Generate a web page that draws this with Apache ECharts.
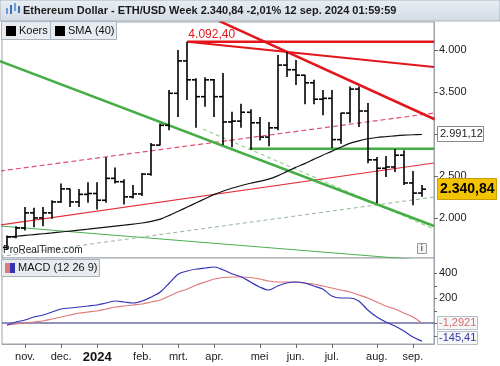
<!DOCTYPE html>
<html><head><meta charset="utf-8">
<script src="https://cdn.jsdelivr.net/npm/echarts@6/dist/echarts.min.js"></script>
<style>html,body{margin:0;padding:0;background:#fff}#c{width:500px;height:366px}</style>
</head><body><div id="c"></div>
<script>
// Weekly bars (week start dates)
const weeks = ['2023-10-23','2023-10-30','2023-11-06','2023-11-13','2023-11-20','2023-11-27','2023-12-04','2023-12-11','2023-12-18','2023-12-25',
  '2024-01-01','2024-01-08','2024-01-15','2024-01-22','2024-01-29','2024-02-05','2024-02-12','2024-02-19','2024-02-26','2024-03-04',
  '2024-03-11','2024-03-18','2024-03-25','2024-04-01','2024-04-08','2024-04-15','2024-04-22','2024-04-29','2024-05-06','2024-05-13',
  '2024-05-20','2024-05-27','2024-06-03','2024-06-10','2024-06-17','2024-06-24','2024-07-01','2024-07-08','2024-07-15','2024-07-22',
  '2024-07-29','2024-08-05','2024-08-12','2024-08-19','2024-08-26','2024-09-02','2024-09-09'];
const open  = [1650,1775,1880,2060,2000,2060,2190,2345,2190,2280, 2290,2210,2470,2430,2250,2285,2520,2865,3100,3480,
  3865,3640,3440,3640,3440,3140,3150,3255,3130,2960, 3070,3815,3760,3695,3605,3410,3420,2930,3245,3530, 3270,2690,2590,2605,2745,2415,2295];
const high  = [1790,1900,2130,2120,2130,2210,2410,2350,2345,2425, 2425,2720,2600,2460,2390,2535,2890,3120,3520,3995,
  4092.4,3660,3670,3650,3720,3260,3355,3290,3200,3140, 3935,3975,3875,3700,3640,3520,3520,3250,3560,3560, 3365,2725,2735,2820,2805,2557,2390];
const low   = [1620,1760,1850,1890,1900,1990,2180,2130,2130,2180, 2100,2180,2410,2160,2230,2260,2500,2860,3040,3200,
  3400,3070,3320,3200,2865,2840,3070,2810,2920,2850, 3040,3675,3580,3350,3350,3220,2830,2880,3130,3080, 2650,2175,2485,2545,2390,2150,2250];
const close = [1775,1880,2060,2000,2060,2190,2345,2190,2280,2290, 2210,2470,2430,2250,2285,2520,2865,3100,3480,3865,
  3640,3440,3640,3440,3140,3150,3255,3130,2960,3070, 3815,3760,3695,3605,3410,3420,2930,3245,3530,3270, 2690,2590,2605,2745,2415,2295,2340.84];
const sma40 = [1772,1782,1792,1802,1812,1822,1833,1844,1855,1866, 1878,1890,1902,1914,1927,1940,1958,1985,2030,2080,
  2130,2180,2230,2280,2320,2355,2385,2412,2435,2460, 2500,2550,2600,2645,2695,2745,2790,2840,2885,2915, 2940,2955,2965,2975,2983,2988,2991.12];
const macd  = [-16,8,24,48,64,88,112,120,128,136, 144,160,176,168,160,176,208,248,320,392,
  416,432,440,448,424,392,368,328,288,264, 296,320,328,320,296,272,216,200,200,176, 104,48,8,-24,-64,-112,-145.41];
const signal= [-16,-8,0,8,16,32,48,64,80,88, 96,112,128,136,144,152,168,184,216,248,
  272,304,328,352,364,368,368,364,352,336, 328,328,328,320,312,296,280,264,248,224, 200,168,136,112,80,48,-1.2921];
// x-axis month labels (week index of first bar of month)
const monthIdx = [2,6,10,15,19,23,28,32,36,41,45];
const monthLabels = ['nov.','dec.','2024','feb.','mrt.','apr.','mei','jun.','jul.','aug.','sep.'];
const priceTicks = [2000,2500,3000,3500,4000];
const priceLabels = [2000,2500,3500,4000];
const macdTicks = [-100,0,100,200,300,400];
const macdLabels = [200,400];
// trend lines: [[weekIndex, price],[weekIndex, price]]
const resHigh   = [[20,4092.4],[47.34,4092.4]];
const resLine1  = [[20,4092.4],[47.34,3792]];
const resSteep  = [[23.5,4340],[47.4,3172]];
const redDash   = [[-0.78,2557],[47.34,3246]];
const redThin   = [[-0.78,1916],[47.34,2652]];
const greenMain = [[-0.78,3863],[47.34,1904]];
const greenDashA= [[21.73,3056],[47.34,1868]];
const greenDashB= [[-0.78,1542],[47.34,2248]];
const greenThin = [[-0.78,1904],[47.34,1488]];
const greenHor  = [[26.9,2822],[47.34,2822]];

const FONT = 'Liberation Sans, Arial, sans-serif';
const chart = echarts.init(document.getElementById('c'), null, {renderer:'canvas'});
const ohlc = weeks.map((w,i)=>[i, open[i], high[i], low[i], close[i]]);
const idxData = a => a.map((v,i)=>[i,v]);
function tl(data, color, width, type){
  return {type:'line', xAxisIndex:0, yAxisIndex:0, data:data, showSymbol:false, symbol:'none', silent:true,
    lineStyle:{color:color, width:width, type:type||'solid'}, z:2, animation:false};
}
const XMIN=-0.55, XMAX=47.34;
const axLine = {show:true, onZero:false, lineStyle:{color:'#9aa3ab'}};
chart.setOption({
  animation:false,
  backgroundColor:'#fff',
  grid:[
    {left:2, right:66, top:22, height:236, show:true, borderColor:'#9aa3ab', borderWidth:1, backgroundColor:'#fff'},
    {left:2, right:66, top:258, height:86, show:true, borderColor:'#9aa3ab', borderWidth:1, backgroundColor:'#fff'}
  ],
  xAxis:[
    {type:'value', gridIndex:0, min:XMIN, max:XMAX, show:false, axisLine:{show:false, onZero:false}, axisTick:{show:false}, axisLabel:{show:false}, splitLine:{show:false}},
    {type:'value', gridIndex:1, min:XMIN, max:XMAX, position:'bottom',
      axisLine:axLine,
      axisTick:{show:false},
      axisLabel:{show:true, customValues:monthIdx, margin:7, color:'#222', fontFamily:FONT, fontSize:11,
        formatter:v=>{const k=monthIdx.indexOf(Math.round(v)); const s=k>=0?monthLabels[k]:''; return /^\d{4}$/.test(s)?'{b|'+s+'}':s;},
        rich:{b:{fontWeight:'bold', fontSize:13, fontFamily:FONT, color:'#111'}}},
      splitLine:{show:false}}
  ],
  yAxis:[
    {type:'value', gridIndex:0, position:'right', min:1524, max:4327,
      axisLine:axLine,
      axisTick:{show:false},
      axisLabel:{show:true, customValues:priceLabels, margin:5, color:'#222', fontFamily:FONT, fontSize:11,
        formatter:v=>String(v).replace(/^(\d)(\d{3})$/,'$1.$2')},
      splitLine:{show:false}},
    {type:'value', gridIndex:1, position:'right', min:-168, max:520,
      axisLine:axLine,
      axisTick:{show:false},
      axisLabel:{show:true, customValues:macdLabels, margin:5, color:'#222', fontFamily:FONT, fontSize:11},
      splitLine:{show:false}}
  ],
  series:[
    tl(greenThin,'#4caf50',1),
    tl(greenDashB,'#93b493',1,[4,3]),
    tl(greenDashA,'#9ad39a',1.2,[4,3]),
    tl(redDash,'#e0506e',1.2,[5,3]),
    tl(redThin,'#e2303c',1.2),
    tl(greenMain,'#45ad45',2.5),
    tl(greenHor,'#45ad45',2.5),
    tl(resHigh,'#e3161c',2.5),
    tl(resLine1,'#e3161c',2),
    tl(resSteep,'#e3161c',2.5),
    {type:'line', name:'SMA (40)', xAxisIndex:0, yAxisIndex:0, data:idxData(sma40), showSymbol:false, symbol:'none',
      lineStyle:{color:'#111', width:1.2}, smooth:0.3, z:3},
    {type:'custom', name:'Koers', xAxisIndex:0, yAxisIndex:0, data:ohlc, encode:{x:0, y:[1,2,3,4]}, z:5,
      renderItem:(params, api)=>{
        const x=api.value(0);
        const o=api.coord([x,api.value(1)]), h=api.coord([x,api.value(2)]), l=api.coord([x,api.value(3)]), c=api.coord([x,api.value(4)]);
        const px=Math.round(h[0]);
        const st={stroke:'#000', lineWidth:1.6};
        return {type:'group', children:[
          {type:'line', shape:{x1:px,y1:h[1],x2:px,y2:l[1]}, style:st},
          {type:'line', shape:{x1:px-4,y1:o[1],x2:px,y2:o[1]}, style:st},
          {type:'line', shape:{x1:px,y1:c[1],x2:px+4,y2:c[1]}, style:st}
        ]};
      }},
    {type:'line', name:'zero', xAxisIndex:1, yAxisIndex:1, data:[[XMIN,0],[XMAX,0]], showSymbol:false, symbol:'none',
      lineStyle:{color:'#22227a', width:1.2}, z:2},
    {type:'line', name:'Signal', xAxisIndex:1, yAxisIndex:1, data:idxData(signal), showSymbol:false, symbol:'none',
      lineStyle:{color:'#e07a7a', width:1.2}, smooth:0.3, z:3},
    {type:'line', name:'MACD', xAxisIndex:1, yAxisIndex:1, data:idxData(macd), showSymbol:false, symbol:'none',
      lineStyle:{color:'#3434b8', width:1.2}, smooth:0.3, z:4}
  ]
});

const P = (x,y)=>chart.convertToPixel({xAxisIndex:0,yAxisIndex:0},[x,y]);
const M = (x,y)=>chart.convertToPixel({xAxisIndex:1,yAxisIndex:1},[x,y]);
const last = weeks.length-1;
const fmt = (v,d)=>v.toLocaleString('de-DE',{minimumFractionDigits:d, maximumFractionDigits:d});
const hiPt = P(resHigh[0][0], resHigh[0][1]);
const smaPt = P(last, sma40[last]);
const clPt = P(last, close[last]);
const sgPt = M(last, signal[last]);
const mcPt = M(last, macd[last]);
const mcY = Math.min(mcPt[1], 338);
const axisX = P(XMAX, 2000)[0];

function box(x,y,w,h,fill,stroke){return {type:'rect', shape:{x:x,y:y,width:w,height:h}, style:{fill:fill, stroke:stroke, lineWidth:1}, z:50};}
function txt(x,y,t,opt){return Object.assign({type:'text', x:x, y:y, z:51, style:Object.assign({text:t, fill:'#111', font:'11px '+FONT, textVerticalAlign:'middle'}, opt||{})});}
function tick(x1,y1,x2,y2){return {type:'line', shape:{x1:x1,y1:y1,x2:x2,y2:y2}, style:{stroke:'#666', lineWidth:1}, z:45};}
const tickEls = [];
priceTicks.forEach(v=>{const y=Math.round(P(0,v)[1])+0.5; tickEls.push(tick(axisX,y,axisX+4,y));});
macdTicks.forEach(v=>{const y=Math.round(M(0,v)[1])+0.5; tickEls.push(tick(axisX,y,axisX+3,y));});
monthIdx.forEach(i=>{const x=Math.round(M(i,0)[0])+0.5; tickEls.push(tick(x,344,x,348));});

chart.setOption({graphic:{elements:tickEls.concat([
  // title bar
  {type:'rect', shape:{x:0,y:0,width:500,height:21}, style:{fill:new echarts.graphic.LinearGradient(0,0,0,1,[{offset:0,color:'#e9eef3'},{offset:1,color:'#d3dbe3'}]), stroke:'#a9b3bd', lineWidth:1}, z:40},
  {type:'rect', shape:{x:6,y:8,width:2,height:6}, style:{fill:'#6b9bd6'}, z:41},
  {type:'rect', shape:{x:10,y:5,width:2,height:9}, style:{fill:'#3a6fbf'}, z:41},
  {type:'rect', shape:{x:14,y:3,width:2,height:8}, style:{fill:'#6b9bd6'}, z:41},
  {type:'rect', shape:{x:18,y:6,width:2,height:7}, style:{fill:'#3a6fbf'}, z:41},
  txt(23,11,'Ethereum Dollar - ETH/USD Week 2.340,84 -2,01% 12 sep. 2024 01:59:59',{font:'bold 11px '+FONT, fill:'#1a1a1a'}),
  // legend boxes
  box(1.5,21.5,49,18,'#e8ecf0','#aab4bd'),
  {type:'rect', shape:{x:6,y:26,width:10,height:10}, style:{fill:'#000'}, z:51},
  txt(19,31,'Koers'),
  box(50.5,21.5,66,18,'#e8ecf0','#aab4bd'),
  {type:'rect', shape:{x:55,y:26,width:10,height:10}, style:{fill:'#000'}, z:51},
  txt(68,31,'SMA (40)'),
  // high label
  txt(hiPt[0]+1, hiPt[1]-7, fmt(resHigh[0][1],2), {fill:'#e3161c', font:'12px '+FONT}),
  // ProRealTime
  txt(3,250,'ProRealTime.com',{font:'10px '+FONT, fill:'#222'}),
  box(417.5,243.5,9,10,'#f4f4f4','#999'),
  txt(420.5,248.5,'i',{font:'bold 9px '+FONT, fill:'#666'}),
  // right labels
  box(437.5, Math.round(smaPt[1])-7.5, 46, 15, '#fff', '#8a8a8a'),
  txt(440, Math.round(smaPt[1]), fmt(sma40[last],2), {fill:'#222'}),
  box(437.5, Math.round(clPt[1])-10.5, 59, 21, '#f3c300', '#c9a000'),
  txt(440, Math.round(clPt[1]), fmt(close[last],2), {font:'bold 14px '+FONT, fill:'#000'}),
  box(437.5, Math.round(sgPt[1])-6.5, 40, 13, '#f4f6f8', '#b6bec6'),
  txt(439, Math.round(sgPt[1]), fmt(signal[last],4), {fill:'#d96a6a'}),
  box(437.5, Math.round(mcY)-6.5, 40, 13, '#f4f6f8', '#b6bec6'),
  txt(439, Math.round(mcY), fmt(macd[last],2), {fill:'#3434a8'}),
  // MACD legend
  box(1.5,259.5,98,17,'#e8ecf0','#aab4bd'),
  {type:'rect', shape:{x:5,y:263,width:5,height:10}, style:{fill:'#e07a7a'}, z:51},
  {type:'rect', shape:{x:10,y:263,width:5,height:10}, style:{fill:'#3434b8'}, z:51},
  txt(18,268,'MACD (12 26 9)')
])}});
</script></body></html>
